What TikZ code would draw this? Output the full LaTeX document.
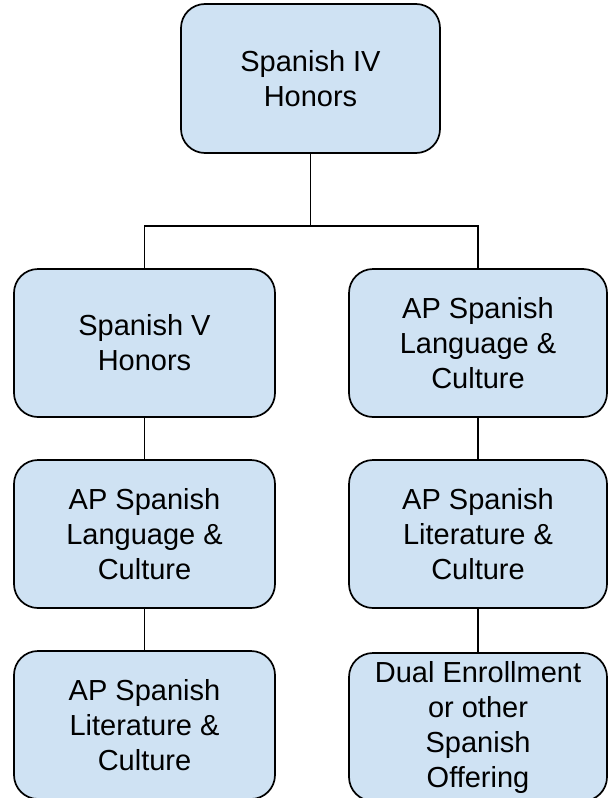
\documentclass[tikz,border=0pt]{standalone}
\usepackage{fontspec}
\setmainfont{Liberation Sans}
\usepackage{tikz}
\usepackage{xcolor}
\usetikzlibrary{positioning,calc}

\definecolor{boxblue}{HTML}{CFE2F3}

\begin{document}
\begin{tikzpicture}[
        x=1pt, y=-1pt,
        course/.style={rectangle, rounded corners=24pt, draw, line width=1.7pt, fill=boxblue,
          minimum width=260pt, minimum height=148pt, inner sep=2pt, align=center,
          font=\fontsize{29}{35}\selectfont},
        link/.style={draw, line width=1.7pt}
      ]
        \useasboundingbox (0,0) rectangle (608,798);

        \node[course, minimum width=259pt, minimum height=149pt] (iv) at (310.5,78.5) {Spanish IV\\Honors};

        \node[course, minimum width=261pt] (vh) at (144.5,343) {Spanish V\\Honors};
        \node[course, minimum width=261pt] (langL) at (144.5,534) {AP Spanish\\Language \&\\Culture};
        \node[course, minimum width=261pt] (litL) at (144.5,725) {AP Spanish\\Literature \&\\Culture};

        \node[course, minimum width=258pt] (langR) at (478,343) {AP Spanish\\Language \&\\Culture};
        \node[course, minimum width=258pt] (litR) at (478,534) {AP Spanish\\Literature \&\\Culture};
        \node[course, minimum width=258pt] (dual) at (478,727) {Dual Enrollment\\or other\\Spanish\\Offering};

        % branching under the top course
        \coordinate (split) at (iv.south |- 0,227);
        \draw[link] (iv.south) -- (split);
        \draw[link] (vh.north) -- ++(0,-42) -| (langR.north);

        % left track
        \draw[link] (vh.south) -- (langL.north);
        \draw[link] (langL.south) -- (litL.north);

        % right track
        \draw[link] (langR.south) -- (litR.north);
        \draw[link] (litR.south) -- (dual.north);

      \end{tikzpicture}
\end{document}
